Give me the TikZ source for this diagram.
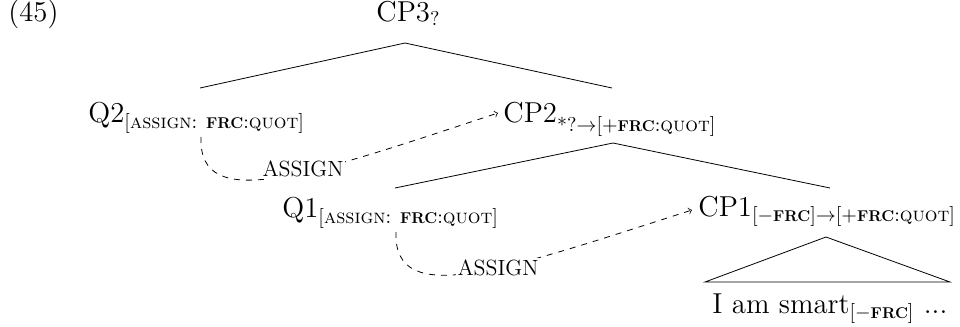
\documentclass[tikz,border=0pt]{standalone}
\usepackage{amsmath}
% bold small-caps stand-in for the feature name
\newcommand\bfsc[1]{\text{\bfseries\scalebox{0.78}{#1}}}
\tikzset{
  lbl/.style={inner sep=0pt, anchor=base west, font=\fontsize{14.4}{17}\selectfont},
  rel/.style={inner sep=1pt, fill=white, font=\fontsize{11}{13}\selectfont},
  branch/.style={line width=0.4pt},
  move/.style={dashed, ->, line width=0.4pt}
}
\begin{document}
\begin{tikzpicture}[x=0.5pt, y=-0.5pt]
\useasboundingbox (0,0) rectangle (960,327);

% example number and tree labels
\node[lbl] (num) at (8,21) {(45)};
\node[lbl] (cp3) at (376,21) {$\text{CP3}_{?}$};
\node[lbl] (q2)  at (88,122) {$\text{Q2}_{[\textsc{assign}\text{: }\bfsc{FRC}{:}\textsc{quot}]}$};
\node[lbl] (cp2) at (503,122) {$\text{CP2}_{*\raisebox{-2.6pt}{$\scriptstyle ?\to[+\bfsc{FRC}{:}\textsc{quot}]$}}$};
\node[lbl] (q1)  at (282,217) {$\text{Q1}_{[\textsc{assign}\text{: }\bfsc{FRC}{:}\textsc{quot}]}$};
\node[lbl] (cp1) at (698,216) {$\text{CP1}_{[-\bfsc{FRC}]\to[+\bfsc{FRC}{:}\textsc{quot}]}$};
\node[lbl] (ip)  at (712,313) {I am smart$_{[-\bfsc{FRC}]}$ ...};

% branch points
\coordinate (t3) at (405,43);
\coordinate (t3l) at (200,88);
\coordinate (t3r) at (612,88);
\coordinate (t2) at (613,143);
\coordinate (t2l) at (395,188);
\coordinate (t2r) at (830,188);
\coordinate (t1) at (826,237);
\coordinate (t1l) at (705,282);
\coordinate (t1r) at (950,282);

\draw[branch] (t3l) -- (t3) -- (t3r);
\draw[branch] (t2l) -- (t2) -- (t2r);
\draw[branch] (t1l) -- (t1) -- (t1r) -- cycle;

% feature assignment arrows
\coordinate (s2) at (201,137);
\coordinate (e2) at (498,113);
\coordinate (s1) at (396,232);
\coordinate (e1) at (692,210);
\draw[move] (s2) .. controls (198,215) and (310,175) .. (e2);
\draw[move] (s1) .. controls (393,310) and (505,270) .. (e1);
\node[rel] (a2) at (303,169) {ASSIGN};
\node[rel] (a1) at (498,268) {ASSIGN};
\end{tikzpicture}
\end{document}
